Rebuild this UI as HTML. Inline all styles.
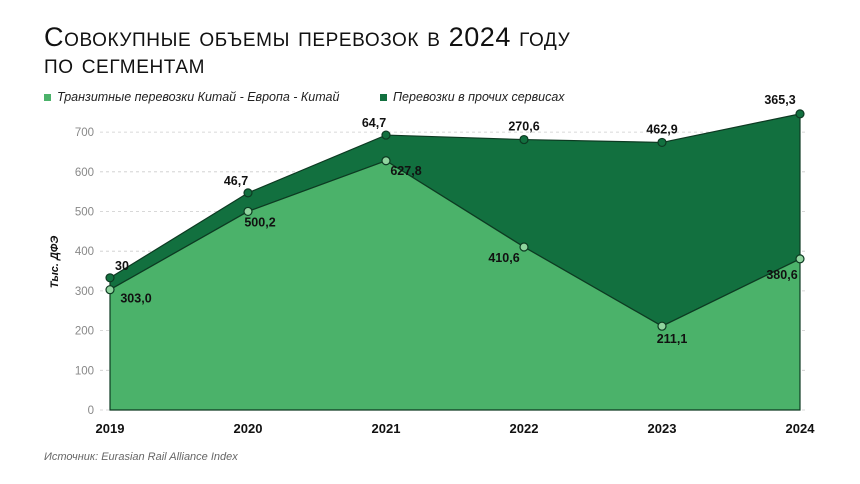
<!DOCTYPE html>
<html><head><meta charset="utf-8"><style>
body{margin:0;background:#fff;font-family:"Liberation Sans","DejaVu Sans",sans-serif}
#wrap{position:relative;width:860px;height:484px;overflow:hidden}
</style></head><body>
<div id="wrap">
<svg id="svg" width="860" height="484" xmlns="http://www.w3.org/2000/svg">
<text x="44" y="46" font-size="27" font-variant="small-caps" letter-spacing="0.6" fill="#111">Совокупные объемы перевозок в 2024 году</text>
<text x="44" y="73" font-size="27" font-variant="small-caps" letter-spacing="0.6" fill="#111">по сегментам</text>
<g>
<rect x="44" y="94" width="7" height="7" fill="#4bb26a"/>
<text x="57" y="101" font-size="12.5" font-style="italic" fill="#222">Транзитные перевозки Китай - Европа - Китай</text>
<rect x="380" y="94" width="7" height="7" fill="#12703f"/>
<text x="393" y="101" font-size="12.5" font-style="italic" fill="#222">Перевозки в прочих сервисах</text>
</g>
<text transform="translate(58,262) rotate(-90)" text-anchor="middle" font-size="11" font-weight="bold" font-style="italic" fill="#111">Тыс. ДФЭ</text>
<g id="grid"></g><g id="areas"></g><g id="marks"></g>
<text x="44" y="460" font-size="11" font-style="italic" fill="#666">Источник: Eurasian Rail Alliance Index</text>
</svg>
</div>
<script>
const years=["2019","2020","2021","2022","2023","2024"];
const transit=[303.0,500.2,627.8,410.6,211.1,380.6];
const other=[30,46.7,64.7,270.6,462.9,365.3];
const transitLabels=["303,0","500,2","627,8","410,6","211,1","380,6"];
const otherLabels=["30","46,7","64,7","270,6","462,9","365,3"];
const yTicks=[0,100,200,300,400,500,600,700];
const NS="http://www.w3.org/2000/svg";
const xs=i=>110+i*138;
const ys=v=>410-v*0.397;
function mk(tag,attrs,parent){const e=document.createElementNS(NS,tag);for(const k in attrs)e.setAttribute(k,attrs[k]);parent.appendChild(e);return e;}
const gridG=document.getElementById('grid'),areasG=document.getElementById('areas'),marksG=document.getElementById('marks');
yTicks.forEach(t=>{
 const l=mk('line',{x1:100,x2:805,y1:ys(t),y2:ys(t),stroke:'#ccc','stroke-dasharray':'3,3','stroke-width':0.8},gridG);
 
 
 const tx=mk('text',{x:94,y:ys(t)+4,'text-anchor':'end','font-size':11.5,fill:'#888'},gridG);
 tx.textContent=t;
 
 
});
const totals=transit.map((v,i)=>v+other[i]);
const topPts=years.map((_,i)=>xs(i)+','+ys(totals[i])).join(' ');
const midPts=years.map((_,i)=>xs(i)+','+ys(transit[i])).join(' ');
const midRev=years.map((_,i)=>xs(i)+','+ys(transit[i])).reverse().join(' ');
const a2=mk('polygon',{points:topPts+' '+midRev,fill:'#12703f',stroke:'#0d3a22','stroke-width':1.2},areasG);


const a1=mk('polygon',{points:xs(0)+','+ys(0)+' '+midPts+' '+xs(5)+','+ys(0),fill:'#4bb26a',stroke:'#0d3a22','stroke-width':1.2},areasG);


const oOff=[[12,-8],[-12,-8],[-12,-8],[0,-9],[0,-9],[-20,-10]];
const tOff=[[26,13],[12,15],[20,14],[-20,15],[10,17],[-18,20]];
years.forEach((yr,i)=>{
 const c1=mk('circle',{cx:xs(i),cy:ys(totals[i]),r:4,fill:'#12703f',stroke:'#0d3a22','stroke-width':1.2},marksG);
 
 
 const c2=mk('circle',{cx:xs(i),cy:ys(transit[i]),r:4,fill:'#8fd49e',stroke:'#0d3a22','stroke-width':1.2},marksG);
 
 
 const t1=mk('text',{x:xs(i)+oOff[i][0],y:ys(totals[i])+oOff[i][1],'text-anchor':'middle','font-size':12.5,'font-weight':'bold',fill:'#111'},marksG);
 t1.textContent=otherLabels[i];
 
 
 const t2=mk('text',{x:xs(i)+tOff[i][0],y:ys(transit[i])+tOff[i][1],'text-anchor':'middle','font-size':12.5,'font-weight':'bold',fill:'#111'},marksG);
 t2.textContent=transitLabels[i];
 
 
 const xt=mk('text',{x:xs(i),y:433,'text-anchor':'middle','font-size':13,'font-weight':'bold',fill:'#111'},marksG);
 xt.textContent=yr;
 
 
});
</script>
</body></html>
